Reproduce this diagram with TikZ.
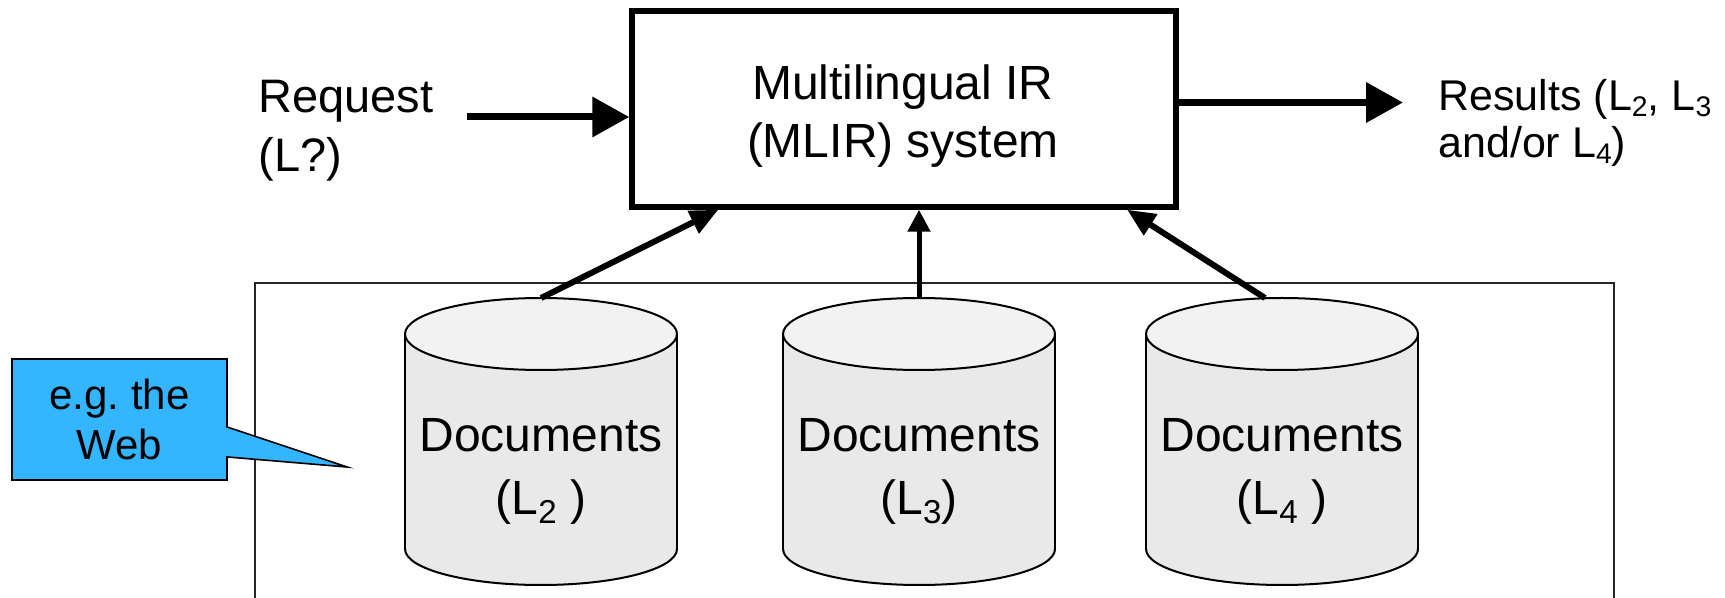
\documentclass[tikz,border=0pt]{standalone}
\usepackage{fontspec}
\usepackage{graphicx}
\setmainfont{Liberation Sans}
\usetikzlibrary{arrows.meta,shapes.callouts,calc}
\definecolor{calloutblue}{HTML}{33B5FF}
\definecolor{cylside}{HTML}{E9E9E9}
\definecolor{cyltop}{HTML}{F2F2F2}
\newcommand{\docsub}[1]{\raisebox{-0.2em}{\scalebox{0.69}{#1}}}
\newcommand{\ressub}[1]{\raisebox{-0.13em}{\scalebox{0.66}{#1}}}
\begin{document}
\begin{tikzpicture}[x=0.5pt,y=-0.5pt,
  bigtext/.style={font=\fontsize{23.5}{29.5}\selectfont, inner sep=0pt, align=left},
  boxtext/.style={font=\fontsize{24}{29}\selectfont, inner sep=0pt, align=center},
  doctext/.style={font=\fontsize{24}{31.5}\selectfont, inner sep=0pt, align=center},
  restext/.style={font=\fontsize{21.5}{23.5}\selectfont, inner sep=0pt, align=left},
  mainbox/.style={draw=black, line width=2.75pt, minimum width=272pt, minimum height=98pt, inner sep=0pt},
  mainarr/.style={line width=3.5pt, -{Triangle[length=18.5pt,width=19.5pt]}},
  diagarr/.style={line width=3pt, -{Triangle[length=14pt,width=12pt]}},
  vertarr/.style={line width=2.5pt, -{Triangle[length=11pt,width=11pt]}},
  cyledge/.style={draw=black, line width=1pt},
  frameline/.style={draw=black!85, line width=1pt},
  webcallout/.style={rectangle callout, draw=black, line width=0.8pt, fill=calloutblue,
    minimum width=107.5pt, minimum height=60.5pt, callout pointer width=15pt,
    font=\fontsize{21}{25}\selectfont, align=center, inner sep=0pt}
]
\useasboundingbox (0,0) rectangle (1725,598);

% outer frame (the Web)
\draw[frameline] (255,598) -- (255,283) -- (1614,283) -- (1614,598);

% main system box
\node[mainbox] (mlir) at (904,109) {};
\node[boxtext] (mlirtext) at (903,116) {Multilingual IR\\(MLIR) system};

% request / results
\node[bigtext, anchor=west] (req) at (258,131) {Request\\(L?)};
\node[restext, anchor=west] (res) at (1438,123) {Results (L\ressub{2}, L\ressub{3}\\and/or L\ressub{4})};
\coordinate (reqtail) at (467,117);
\coordinate (reshead) at (1403,102.5);
\draw[mainarr] (reqtail) -- (reqtail -| mlir.west);
\draw[mainarr] (reshead -| mlir.east) -- (reshead);

% cylinders
\foreach \n/\cx in {2/541,3/919,4/1282}{
  \fill[cylside] (\cx-136,334) rectangle (\cx+136,549);
  \fill[cylside] (\cx,549) ellipse [x radius=136, y radius=36];
  \begin{scope}
    \clip (\cx-140,549) rectangle (\cx+140,592);
    \draw[cyledge] (\cx,549) ellipse [x radius=136, y radius=36];
  \end{scope}
  \draw[cyledge] (\cx-136,334) -- (\cx-136,549) (\cx+136,334) -- (\cx+136,549);
  \draw[cyledge, fill=cyltop] (\cx,334) ellipse [x radius=136, y radius=36];
}
\node[doctext] (d2) at (541,471) {Documents\\(L\docsub{2} )};
\node[doctext] (d3) at (919,471) {Documents\\(L\docsub{3})};
\node[doctext] (d4) at (1282,471) {Documents\\(L\docsub{4} )};
\coordinate (top2) at (541,298);
\coordinate (top3) at (919,298);
\coordinate (top4) at (1265,298);

% connectors from collections to the system
\draw[diagarr] (top2) -- ($(mlir.south west)!0.162!(mlir.south east)$);
\draw[vertarr] (top3) -- (top3 |- mlir.south);
\draw[diagarr] (top4) -- ($(mlir.south west)!0.906!(mlir.south east)$);

% callout
\node[webcallout, callout absolute pointer={(347,467)}] (web) at (119.5,419.5) {e.g.\ the\\Web};
\end{tikzpicture}
\end{document}
